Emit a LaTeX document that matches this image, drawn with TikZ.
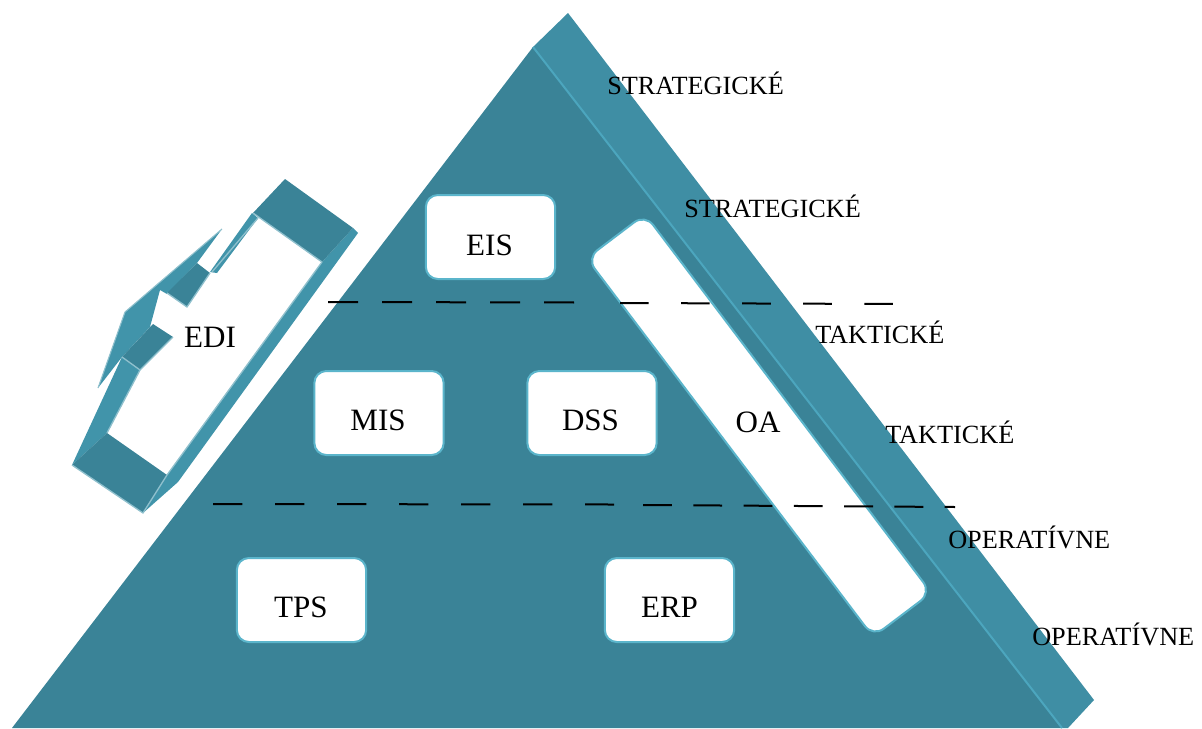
\documentclass[tikz,border=0pt]{standalone}
\usepackage{fontspec}
\setmainfont{Liberation Serif}
\definecolor{frontface}{HTML}{3A8397}
\definecolor{sideface}{HTML}{3F8EA4}
\definecolor{ridge}{HTML}{4CA6BE}
\definecolor{bandteal}{HTML}{4194AA}
\definecolor{shine}{HTML}{8FC0CD}
\definecolor{boxedge}{HTML}{5BB5CB}
\begin{document}
\begin{tikzpicture}[x=0.75pt,y=-0.75pt,
  sysbox/.style={draw=boxedge, line width=1.5pt, fill=white, rounded corners=9pt,
    minimum width=97pt, minimum height=63pt, inner sep=0pt},
  syslabel/.style={anchor=base, inner sep=0pt, font=\fontsize{23.3}{28}\selectfont},
  levellabel/.style={anchor=base west, inner sep=0pt, font=\fontsize{19.7}{24}\selectfont},
  levelline/.style={line width=1.5pt, black},
  shineedge/.style={draw=shine, line width=1pt, line join=round}]
\useasboundingbox (0,0) rectangle (1202,728);

% pyramid: side face, front face and the ridge between them
\fill[sideface] (533,47) -- (568,13) -- (1094,700) -- (1068,728) -- (1062,728) -- cycle;
\fill[frontface] (533,47) -- (1062,728) -- (12,728) -- cycle;
\draw[ridge, line width=1.5pt] (533,47) -- (1062,728);

% information systems
\node[sysbox] (eis) at (490.5,237) {};
\node[sysbox] (mis) at (379,413) {};
\node[sysbox] (dss) at (592,413) {};
\node[sysbox] (tps) at (301.5,600) {};
\node[sysbox] (erp) at (669.5,600) {};
\node[sysbox, minimum width=356pt, minimum height=54.75pt, rounded corners=10pt, rotate=-52.9] (oa) at (759,425.5) {};

\node[syslabel] (eis-t) at (489.5,255) {EIS};
\node[syslabel] (mis-t) at (378,430) {MIS};
\node[syslabel] (dss-t) at (590.5,430) {DSS};
\node[syslabel] (tps-t) at (301,617) {TPS};
\node[syslabel] (erp-t) at (669.5,617) {ERP};
\node[syslabel] (oa-t) at (758,432) {OA};

% level separators, drawn over the boxes
\draw[levelline, dash pattern=on 22.5pt off 18pt] (328,302) -- (576,302.5);
\draw[levelline, dash pattern=on 21.5pt off 24.3pt] (620,303) -- (895,304);
\draw[levelline, dash pattern=on 22pt off 24.5pt] (213,504) -- (614,504.5);
\draw[levelline, dash pattern=on 21.7pt off 16pt] (643,505) -- (955,507);

% EDI frame: long strips
\fill[bandteal] (322,262) -- (353,228) -- (358,233) -- (178,482) -- (143,513) -- (167,475) -- cycle;
\fill[bandteal] (252,213) -- (258,218) -- (217,273) -- (210,272) -- cycle;
\fill[bandteal] (122,357) -- (140,370) -- (107,433) -- (72,465) -- cycle;
\draw[shineedge] (322,262) -- (167,475);
\draw[shineedge] (258,218) -- (212,272);
\draw[shineedge] (140,370) -- (107,433);

% EDI frame: end blocks
\fill[frontface] (285,179) -- (353,228) -- (322,262) -- (253,213) -- cycle;
\draw[shineedge] (253,213) -- (322,262);
\fill[frontface] (72,465) -- (107,433) -- (167,475) -- (143,513) -- cycle;
\draw[shineedge] (72,465) -- (143,513) -- (167,475);

% EDI double arrow
\fill[bandteal] (222,229) -- (125,312) -- (98,388) -- (122,357) -- (150,327)
  -- (160,290) -- (167,294) -- (197,263) -- cycle;
\draw[shineedge, line width=0.8pt] (222,229) -- (125,312) -- (98,388);

% EDI small blocks at the arrow
\fill[frontface] (167,293) -- (197,263) -- (210,273) -- (187,307) -- cycle;
\draw[shineedge] (167,293) -- (187,307) -- (210,273);
\fill[frontface] (122,357) -- (153,324) -- (173,337) -- (140,370) -- cycle;
\draw[shineedge] (122,357) -- (140,370) -- (173,337);

\node[syslabel] (edi-t) at (210,347) {EDI};

% management levels
\node[levellabel] (lv1) at (607,94) {STRATEGICKÉ};
\node[levellabel] (lv2) at (684,217) {STRATEGICKÉ};
\node[levellabel] (lv3) at (815,343) {TAKTICKÉ};
\node[levellabel] (lv4) at (885,443) {TAKTICKÉ};
\node[levellabel] (lv5) at (948,548) {OPERATÍVNE};
\node[levellabel] (lv6) at (1032,645) {OPERATÍVNE};
\end{tikzpicture}
\end{document}
